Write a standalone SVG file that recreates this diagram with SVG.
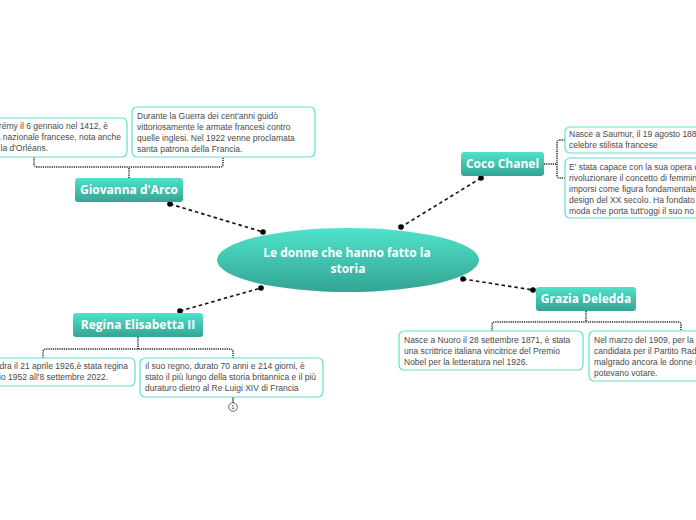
<svg xmlns="http://www.w3.org/2000/svg" width="696" height="520" viewBox="0 0 696 520">
<defs>
<linearGradient id="g" x1="0" y1="0" x2="0" y2="1">
<stop offset="0" stop-color="#4fe3cb"/>
<stop offset="1" stop-color="#34a494"/>
</linearGradient>
<style>
.node{fill:url(#g);}
.nt{font-family:"Open Sans","Noto Sans",sans-serif;font-weight:700;font-size:12px;fill:#fff;text-anchor:middle;}
.ct{font-family:"Open Sans","Noto Sans",sans-serif;font-weight:700;font-size:12px;fill:#fff;text-anchor:middle;}
.box{fill:#fff;stroke:#62e0cc;stroke-width:1.2;}
.bt{font-family:"Liberation Sans",Arial,sans-serif;font-size:8.5px;fill:#4a4a4a;}
.link{fill:none;stroke:#111;stroke-width:1.6;stroke-dasharray:3.5,3;}
.br{fill:none;stroke:#222;stroke-width:1.5;stroke-dasharray:1.2,1;}
.dot{fill:#000;}
</style>
</defs>
<rect width="696" height="520" fill="#fff"/>
<g id="connectors">
<line class="link" x1="170" y1="204" x2="263" y2="232"/>
<line class="link" x1="481" y1="178" x2="401" y2="227"/>
<line class="link" x1="463" y1="279" x2="533" y2="290"/>
<line class="link" x1="180" y1="311" x2="261" y2="288"/>
<circle class="dot" cx="170" cy="204" r="2.8"/>
<circle class="dot" cx="263" cy="232" r="2.8"/>
<circle class="dot" cx="481" cy="178" r="2.8"/>
<circle class="dot" cx="401" cy="227" r="2.8"/>
<circle class="dot" cx="463" cy="279" r="2.8"/>
<circle class="dot" cx="533" cy="290" r="2.8"/>
<circle class="dot" cx="180" cy="311" r="2.8"/>
<circle class="dot" cx="261" cy="288" r="2.8"/>
<path class="br" d="M129 178 V167 M34 157 V164 Q34 167 37 167 H220 Q223 167 223 164 V157"/>
<path class="br" d="M544 164 H557 M565 140 H560 Q557 140 557 143 V175 Q557 178 560 178 H565"/>
<path class="br" d="M586 311 V322 M492 331 V325 Q492 322 495 322 H678 Q681 322 681 325 V331"/>
<path class="br" d="M138 337 V349 M43 358 V352 Q43 349 46 349 H230 Q233 349 233 352 V358"/>
<path fill="none" stroke="#222" stroke-width="1" d="M233 397 V403"/>
</g>
<g id="center">
<ellipse class="node" cx="348" cy="260" rx="131" ry="32"/>
<text class="ct" x="347" y="257">Le donne che hanno fatto la</text>
<text class="ct" x="348" y="273">storia</text>
</g>
<g id="giovanna">
<rect class="node" x="75" y="178" width="108" height="24" rx="3"/>
<text class="nt" x="129" y="194">Giovanna d'Arco</text>
</g>
<g id="giovanna-1">
<rect class="box" x="-10" y="118" width="137" height="39" rx="5"/>
<text class="bt" text-anchor="end" x="108" y="129">rémy  il 6 gennaio nel 1412, è</text>
<text class="bt" text-anchor="end" x="121" y="140">a nazionale francese, nota anche</text>
<text class="bt" text-anchor="end" x="48" y="151">la d'Orléans.</text>
</g>
<g id="giovanna-2">
<rect class="box" x="132" y="107" width="183" height="50" rx="5"/>
<text class="bt" x="137" y="119">Durante la Guerra dei cent'anni guidò</text>
<text class="bt" x="137" y="130">vittoriosamente le armate francesi contro</text>
<text class="bt" x="137" y="141">quelle inglesi. Nel 1922 venne proclamata</text>
<text class="bt" x="137" y="152">santa patrona della Francia.</text>
</g>
<g id="coco">
<rect class="node" x="461" y="152" width="83" height="24" rx="3"/>
<text class="nt" x="502.5" y="168">Coco Chanel</text>
</g>
<g id="coco-1">
<rect class="box" x="565" y="127" width="150" height="26" rx="5"/>
<text class="bt" x="569" y="137">Nasce a Saumur, il 19 agosto 1883</text>
<text class="bt" x="569" y="148">celebre stilista francese</text>
</g>
<g id="coco-2">
<rect class="box" x="565" y="158" width="150" height="60" rx="5"/>
<text class="bt" x="569" y="170">E' stata capace con la sua opera di</text>
<text class="bt" x="569" y="181">rivoluzionare il concetto di femmini</text>
<text class="bt" x="569" y="192">imporsi come figura fondamentale</text>
<text class="bt" x="569" y="203">design del XX secolo. Ha fondato l</text>
<text class="bt" x="569" y="214">moda che porta tutt'oggi il suo no</text>
</g>
<g id="grazia">
<rect class="node" x="536" y="287" width="100" height="24" rx="3"/>
<text class="nt" x="586" y="303">Grazia Deledda</text>
</g>
<g id="grazia-1">
<rect class="box" x="399" y="331" width="184" height="39" rx="5"/>
<text class="bt" x="404" y="343">Nasce a  Nuoro il 28 settembre 1871, è stata</text>
<text class="bt" x="404" y="354">una scrittrice italiana vincitrice del Premio</text>
<text class="bt" x="404" y="365">Nobel per la letteratura nel 1926.</text>
</g>
<g id="grazia-2">
<rect class="box" x="589" y="331" width="130" height="50" rx="5"/>
<text class="bt" x="594" y="343">Nel marzo del 1909, per la p</text>
<text class="bt" x="594" y="354">candidata per il Partito Radi</text>
<text class="bt" x="594" y="365">malgrado ancora le donne i</text>
<text class="bt" x="594" y="376">potevano votare.</text>
</g>
<g id="regina">
<rect class="node" x="73" y="313" width="130" height="24" rx="3"/>
<text class="nt" x="138" y="329">Regina Elisabetta II</text>
</g>
<g id="regina-1">
<rect class="box" x="-10" y="358" width="145" height="28" rx="5"/>
<text class="bt" text-anchor="end" x="128" y="369">adra il 21 aprile 1926,è stata regina</text>
<text class="bt" text-anchor="end" x="108" y="380">io 1952 all'8 settembre 2022.</text>
</g>
<g id="regina-2">
<rect class="box" x="140" y="358" width="183" height="39" rx="5"/>
<text class="bt" x="145" y="369">ıl suo regno, durato 70 anni e 214 giorni, è</text>
<text class="bt" x="145" y="380">stato il più lungo della storia britannica e il più</text>
<text class="bt" x="145" y="391">duraturo dietro al Re Luigi XIV di Francia</text>
</g>
<g id="badge">
<circle cx="233" cy="407" r="4.3" fill="#fff" stroke="#444" stroke-width="0.8"/>
<text x="233" y="409.3" font-family="Liberation Sans,Arial,sans-serif" font-size="6px" fill="#333" text-anchor="middle">1</text>
</g>
</svg>
